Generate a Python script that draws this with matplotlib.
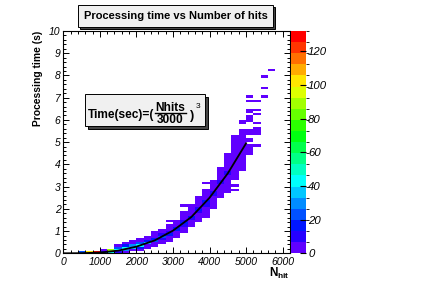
import numpy as np
import matplotlib
matplotlib.use('Agg')
import matplotlib.pyplot as plt
from matplotlib.colors import ListedColormap, BoundaryNorm
from matplotlib.patches import Rectangle
from matplotlib.lines import Line2D
from matplotlib.ticker import MultipleLocator

plt.rcParams['font.family'] = ['Liberation Sans', 'DejaVu Sans']
plt.rcParams['font.style'] = 'italic'
plt.rcParams['mathtext.fontset'] = 'custom'
plt.rcParams['mathtext.rm'] = 'Liberation Sans:style=normal'
plt.rcParams['mathtext.bf'] = 'Liberation Sans:style=normal:weight=bold'
plt.rcParams['mathtext.it'] = 'Liberation Sans:style=italic'

# Histogram binning (N_hit in steps of 200, time in steps of 0.1 s).
X_BIN = 200
x_edges = np.arange(0, 6201, X_BIN)
y_edges = np.linspace(0, 10, 101)

# Filled cells per N_hit column: (first time bin, last time bin, entries).
columns = {
    400: [(0, 0, 22)],
    600: [(0, 0, 100)],
    800: [(0, 0, 128)],
    1000: [(0, 0, 16), (1, 1, 4)],
    1200: [(0, 0, 45), (1, 1, 92)],
    1400: [(0, 0, 12), (1, 1, 42), (2, 2, 24), (3, 3, 4)],
    1600: [(0, 0, 3), (1, 1, 30), (2, 2, 42), (3, 3, 14), (4, 4, 3)],
    1800: [(1, 1, 6), (2, 2, 36), (3, 3, 28), (4, 5, 4)],
    2000: [(1, 1, 2), (2, 2, 14), (3, 3, 40), (4, 4, 20), (5, 6, 3)],
    2200: [(2, 3, 4), (4, 4, 38), (5, 5, 18), (6, 7, 3)],
    2400: [(3, 4, 3), (5, 5, 24), (6, 6, 16), (7, 9, 3)],
    2600: [(4, 5, 3), (6, 6, 10), (7, 7, 22), (8, 8, 9), (9, 10, 2)],
    2800: [(5, 7, 3), (8, 8, 18), (9, 9, 12), (10, 12, 3), (14, 14, 1)],
    3000: [(7, 9, 3), (10, 10, 16), (11, 11, 14), (12, 14, 3)],
    3200: [(9, 11, 3), (12, 12, 10), (13, 13, 17), (14, 14, 8), (15, 18, 3), (21, 21, 1)],
    3400: [(12, 14, 3), (15, 15, 9), (16, 16, 16), (17, 17, 6), (18, 20, 3), (21, 21, 1)],
    3600: [(14, 17, 3), (18, 18, 8), (19, 19, 15), (20, 20, 7), (21, 25, 3)],
    3800: [(16, 20, 3), (21, 22, 9), (23, 23, 14), (24, 28, 3), (31, 31, 1)],
    4000: [(20, 23, 2), (24, 25, 5), (26, 27, 9), (28, 32, 3)],
    4200: [(25, 28, 2), (29, 30, 4), (31, 32, 8), (33, 38, 3)],
    4400: [(27, 31, 2), (32, 34, 4), (35, 36, 7), (37, 42, 3), (43, 44, 1)],
    4600: [(28, 28, 1), (30, 30, 1), (33, 37, 2), (38, 41, 4), (42, 43, 6),
           (44, 48, 3), (49, 52, 2)],
    4800: [(37, 41, 2), (42, 46, 3), (47, 49, 4), (50, 55, 2), (58, 59, 1)],
    5000: [(44, 48, 1), (50, 51, 1), (53, 55, 1), (59, 59, 1), (60, 61, 1),
           (63, 64, 1), (68, 68, 1), (70, 70, 1)],
    5200: [(48, 48, 1), (53, 55, 1), (56, 56, 1), (58, 58, 1), (62, 62, 1),
           (64, 64, 1), (68, 68, 1)],
    5400: [(70, 70, 1), (74, 74, 1), (79, 79, 1)],
    5600: [(82, 82, 1)],
}

# Fit curve.
fit_nhit = [0, 500, 1000, 1500, 2000, 2500, 3000, 3500, 4000, 4500, 5000]
fit_time = [0, 0.004, 0.035, 0.12, 0.30, 0.58, 1.02, 1.63, 2.50, 3.60, 4.95]

z_max = 132
n_levels = 20

# Fill the 2D histogram.
H = np.zeros((len(y_edges) - 1, len(x_edges) - 1))
for x0, segs in columns.items():
    for lo, hi, n in segs:
        H[lo:hi + 1, x0 // X_BIN] = n

W, Hpx = 436, 300
fig = plt.figure(figsize=(W / 100, Hpx / 100), dpi=100)


def fbox(x0, y0, x1, y1):
    # pixel box (top-left origin) -> figure fraction rect
    return x0 / W, 1 - y1 / Hpx, (x1 - x0) / W, (y1 - y0) / Hpx


def ptext(x, y, s, **kw):
    # text placed in pixel coords (top-left origin)
    kw.setdefault('fontstyle', 'normal')
    kw.setdefault('fontweight', 'bold')
    return fig.text(x / W, 1 - y / Hpx, s, **kw)


def pave(x0, y0, x1, y1, shadow=3):
    # grey box with a dark drop shadow, ROOT style
    for dx, fc in [(shadow, '#444444'), (0, '#f0f0f0')]:
        r = fbox(x0 + dx, y0 + dx, x1 + dx, y1 + dx)
        fig.patches.append(Rectangle(r[:2], r[2], r[3], transform=fig.transFigure,
                                     facecolor=fc, edgecolor='black', lw=0.7))


ax = fig.add_axes(fbox(63.3, 31, 290, 253.3))
cax = fig.add_axes(fbox(291, 31, 306, 253.3))

cmap = ListedColormap(plt.cm.hsv(np.linspace(0.74, 0.0, n_levels)))
norm = BoundaryNorm(np.linspace(0, z_max, n_levels + 1), n_levels)
mesh = ax.pcolormesh(x_edges, y_edges, np.ma.masked_equal(H, 0),
                     cmap=cmap, norm=norm)
ax.plot(fit_nhit, fit_time, color='black', lw=1.3)

ax.set_xlim(0, 6200)
ax.set_ylim(0, 10)
ax.xaxis.set_major_locator(MultipleLocator(1000))
ax.xaxis.set_minor_locator(MultipleLocator(200))
ax.yaxis.set_major_locator(MultipleLocator(1))
ax.yaxis.set_minor_locator(MultipleLocator(0.2))
ax.tick_params(which='both', direction='in', top=True, right=True,
               labelsize=7.5, width=0.7)
ax.tick_params(which='major', length=4.5)
ax.tick_params(which='minor', length=2.2)
ax.tick_params(axis='x', pad=2.5)
ax.tick_params(axis='y', pad=2)
for s in ax.spines.values():
    s.set_linewidth(0.8)

ax.set_ylabel('Processing time (s)', loc='top', fontsize=7.4,
              fontweight='bold', fontstyle='normal')
ax.yaxis.set_label_coords(-0.088, 1.0)
ax.set_xlabel(r'$\mathbf{N}_{\mathbf{hit}}$', loc='right', fontsize=8.5)
ax.xaxis.set_label_coords(1.0, -0.056)

cb = fig.colorbar(mesh, cax=cax, ticks=range(0, 121, 20))
cb.outline.set_visible(False)
cax.tick_params(direction='in', length=4, width=0.8, labelsize=8.2, pad=1.5)

# Title pave.
pave(78, 5, 273, 27, shadow=2)
ptext(175.5, 16, 'Processing time vs Number of hits',
      ha='center', va='center', fontsize=8)

# Formula pave: Time(sec)=(Nhits/3000)^3
pave(85, 94, 205, 126, shadow=3)
ptext(154, 118, 'Time(sec)=(', ha='right', va='baseline', fontsize=8.6)
ptext(170.5, 110.5, 'Nhits', ha='center', va='baseline', fontsize=8.6)
ptext(170.5, 123.2, '3000', ha='center', va='baseline', fontsize=8.6)
fig.add_artist(Line2D([155 / W, 186 / W], [1 - 112.6 / Hpx] * 2,
                      color='black', lw=1.0))
ptext(189.5, 118.5, ')', ha='left', va='baseline', fontsize=9.2)
ptext(195.5, 107.5, '3', ha='left', va='baseline', fontsize=6,
      fontweight='normal')

fig.savefig('out.png', dpi=100)
